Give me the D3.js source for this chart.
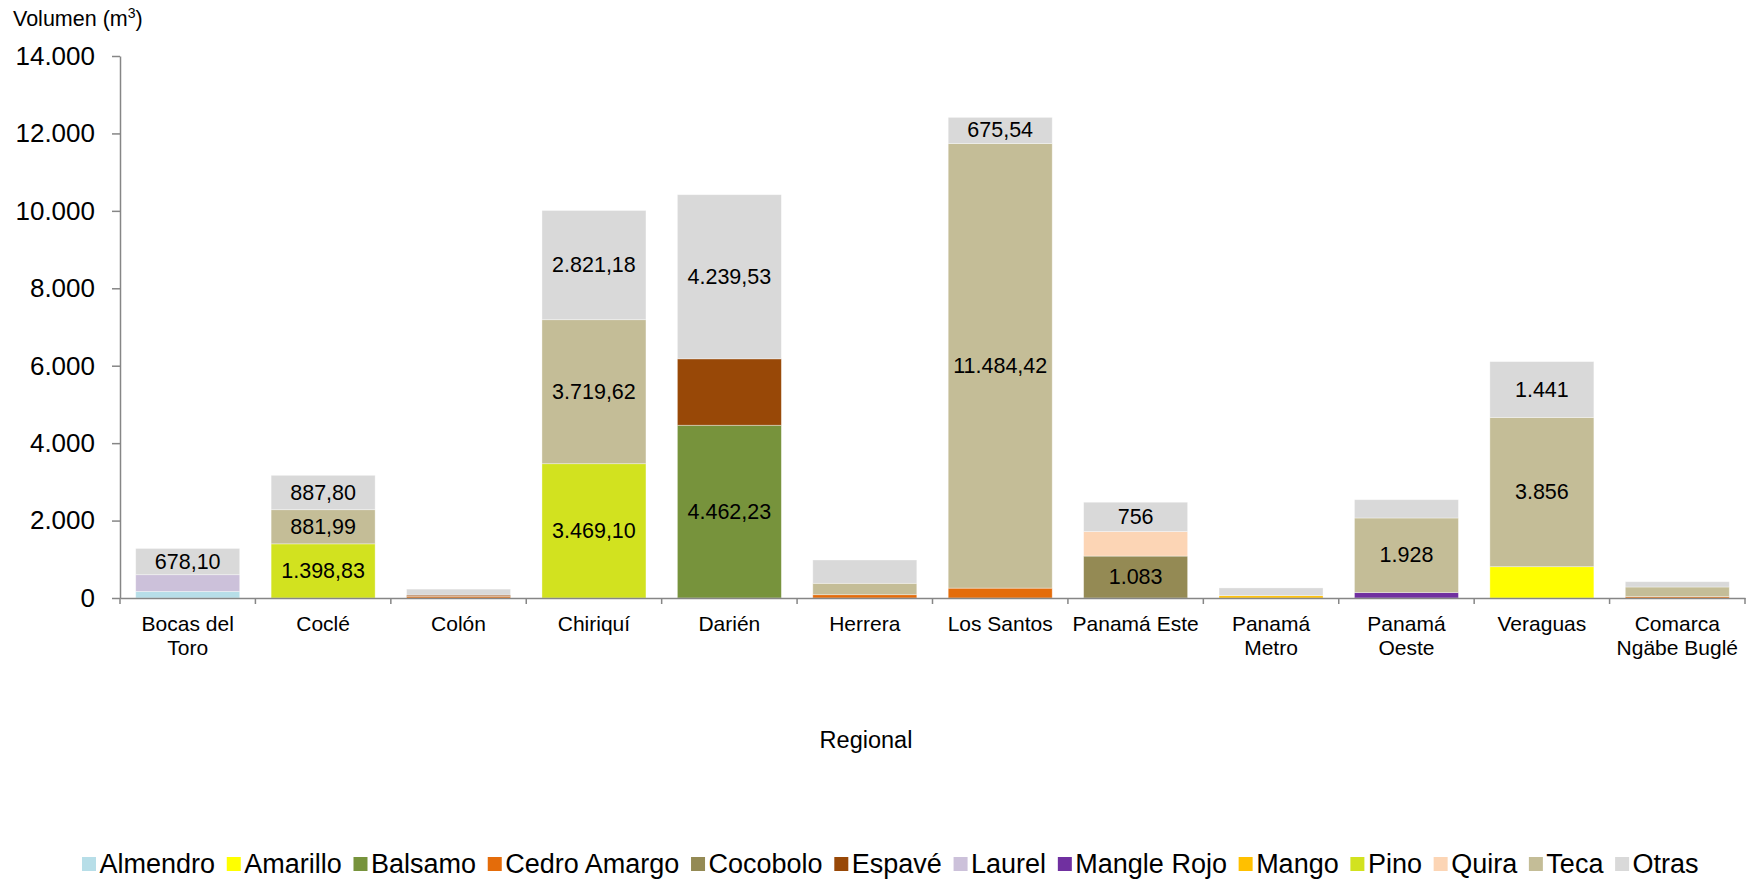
<!DOCTYPE html>
<html>
<head>
<meta charset="utf-8">
<script src="https://cdn.jsdelivr.net/npm/d3@7"></script>
<style>
    body { margin: 0; background: #fff; }
    svg { display: block; font-family: "Liberation Sans", Arial, sans-serif; }
</style>
</head>
<body>
<div id="chart"></div>
<script>
const regions = ["Bocas del Toro", "Coclé", "Colón", "Chiriquí", "Darién", "Herrera", "Los Santos",
    "Panamá Este", "Panamá Metro", "Panamá Oeste", "Veraguas", "Comarca Ngäbe Buglé"];

const regionLines = [["Bocas del", "Toro"], ["Coclé"], ["Colón"], ["Chiriquí"], ["Darién"], ["Herrera"],
    ["Los Santos"], ["Panamá Este"], ["Panamá", "Metro"], ["Panamá", "Oeste"], ["Veraguas"], ["Comarca", "Ngäbe Buglé"]];

const species = ["Almendro", "Amarillo", "Balsamo", "Cedro Amargo", "Cocobolo", "Espavé", "Laurel",
    "Mangle Rojo", "Mango", "Pino", "Quira", "Teca", "Otras"];

const speciesColors = ["#b7dee8", "#ffff00", "#77933c", "#e46c0a", "#948a54", "#984807", "#ccc1da",
    "#7030a0", "#ffc000", "#d2e21f", "#fcd5b5", "#c4bd97", "#d9d9d9"];

// volumes per species, one value per region (m3)
const almendro    = [170, 0, 0, 0, 0, 0, 0, 0, 0, 0, 0, 0];
const amarillo    = [0, 0, 0, 0, 0, 0, 0, 0, 0, 0, 809, 0];
const balsamo     = [0, 0, 0, 0, 4462.23, 0, 0, 0, 0, 0, 0, 0];
const cedroAmargo = [0, 0, 40, 0, 0, 85, 255, 0, 0, 0, 0, 35];
const cocobolo    = [0, 0, 0, 0, 0, 0, 0, 1083, 0, 0, 0, 0];
const espave      = [0, 0, 35, 0, 1716, 0, 0, 0, 0, 0, 0, 0];
const laurel      = [432, 0, 0, 0, 0, 0, 0, 0, 0, 0, 0, 0];
const mangleRojo  = [0, 0, 0, 0, 0, 0, 0, 0, 0, 139, 0, 0];
const mango       = [0, 0, 0, 0, 0, 0, 0, 0, 60, 0, 0, 0];
const pino        = [0, 1398.83, 0, 3469.10, 0, 0, 0, 0, 0, 0, 0, 0];
const quira       = [0, 0, 0, 0, 0, 0, 0, 635, 0, 0, 0, 0];
const teca        = [0, 881.99, 0, 3719.62, 0, 295, 11484.42, 0, 0, 1928, 3856, 249];
const otras       = [678.10, 887.80, 155, 2821.18, 4239.53, 602, 675.54, 756, 200, 472, 1441, 137];

const seriesValues = [almendro, amarillo, balsamo, cedroAmargo, cocobolo, espave, laurel,
    mangleRojo, mango, pino, quira, teca, otras];

const yTicks = [0, 2000, 4000, 6000, 8000, 10000, 12000, 14000];

// data labels shown inside segments
const segmentLabels = [
    ["Bocas del Toro", "Otras", "678,10"],
    ["Coclé", "Pino", "1.398,83"],
    ["Coclé", "Teca", "881,99"],
    ["Coclé", "Otras", "887,80"],
    ["Chiriquí", "Pino", "3.469,10"],
    ["Chiriquí", "Teca", "3.719,62"],
    ["Chiriquí", "Otras", "2.821,18"],
    ["Darién", "Balsamo", "4.462,23"],
    ["Darién", "Otras", "4.239,53"],
    ["Los Santos", "Teca", "11.484,42"],
    ["Los Santos", "Otras", "675,54"],
    ["Panamá Este", "Cocobolo", "1.083"],
    ["Panamá Este", "Otras", "756"],
    ["Panamá Oeste", "Teca", "1.928"],
    ["Veraguas", "Teca", "3.856"],
    ["Veraguas", "Otras", "1.441"]
];

function buildChart() {
    const width = 1754;
    const height = 883;

    const svg = d3.select("#chart")
        .append("svg")
        .attr("width", width)
        .attr("height", height);

    const rows = regions.map((r, i) => {
        const row = { region: r };
        species.forEach((s, j) => { row[s] = seriesValues[j][i]; });
        return row;
    });

    const stacked = d3.stack().keys(species)(rows);

    const x = d3.scaleBand()
        .domain(regions)
        .range([120, 1745])
        .paddingInner(0.232)
        .paddingOuter(0.116);

    const y = d3.scaleLinear()
        .domain([0, 14000])
        .range([598, 56]);

    const color = d3.scaleOrdinal().domain(species).range(speciesColors);

    const locale = d3.formatLocale({ decimal: ",", thousands: ".", grouping: [3], currency: ["", ""] });
    const fmt = locale.format(",");

    // bars
    svg.append("g")
        .selectAll("g")
        .data(stacked)
        .join("g")
        .attr("fill", d => color(d.key))
        .selectAll("rect")
        .data(d => d.filter(p => p[1] - p[0] > 0))
        .join("rect")
        .attr("x", d => x(d.data.region))
        .attr("y", d => y(d[1]))
        .attr("width", x.bandwidth())
        .attr("height", d => y(d[0]) - y(d[1]))
        .attr("stroke", "#ffffff")
        .attr("stroke-opacity", 0.45)
        .attr("stroke-width", 0.8);

    // segment labels
    svg.append("g")
        .selectAll("text")
        .data(segmentLabels)
        .join("text")
        .attr("x", d => x(d[0]) + x.bandwidth() / 2)
        .attr("y", d => {
            const layer = stacked[species.indexOf(d[1])];
            const p = layer[regions.indexOf(d[0])];
            return (y(p[0]) + y(p[1])) / 2;
        })
        .attr("text-anchor", "middle")
        .attr("dominant-baseline", "central")
        .style("font-size", "21.5px")
        .style("fill", "#000")
        .text(d => d[2]);

    // y axis
    const gy = svg.append("g")
        .attr("transform", "translate(120,0)")
        .call(d3.axisLeft(y)
            .tickValues(yTicks)
            .tickFormat(d => fmt(d))
            .tickSize(8)
            .tickSizeOuter(0)
            .tickPadding(17));

    gy.selectAll("path, line")
        .attr("stroke", "#868686")
        .attr("stroke-width", 1.5);

    gy.selectAll("text")
        .style("font-size", "26px")
        .style("font-family", "'Liberation Sans', Arial, sans-serif")
        .attr("fill", "#000");

    // x axis
    const gx = svg.append("g")
        .attr("transform", "translate(0,598)")
        .call(d3.axisBottom(x).tickSize(0).tickSizeOuter(0).tickFormat(""));

    gx.select(".domain")
        .attr("stroke", "#868686")
        .attr("stroke-width", 1.5);

    gx.selectAll(".tick").remove();

    gx.selectAll(".sep")
        .data(d3.range(regions.length + 1))
        .join("line")
        .attr("class", "sep")
        .attr("x1", i => x.range()[0] + i * x.step())
        .attr("x2", i => x.range()[0] + i * x.step())
        .attr("y1", 0)
        .attr("y2", 6)
        .attr("stroke", "#868686")
        .attr("stroke-width", 1.5);

    const catLabels = svg.append("g")
        .selectAll("text")
        .data(regions)
        .join("text")
        .attr("x", d => x(d) + x.bandwidth() / 2)
        .attr("y", 631)
        .attr("text-anchor", "middle")
        .style("font-size", "21px")
        .style("fill", "#000");

    catLabels.selectAll("tspan")
        .data((d, i) => regionLines[i])
        .join("tspan")
        .attr("x", function() { return d3.select(this.parentNode).attr("x"); })
        .attr("dy", (d, i) => i === 0 ? 0 : 23.5)
        .text(d => d);

    // axis titles
    const title = svg.append("text")
        .attr("x", 13)
        .attr("y", 26)
        .style("font-size", "21.5px")
        .style("fill", "#000");
    title.append("tspan").text("Volumen (m");
    title.append("tspan")
        .attr("baseline-shift", "super")
        .style("font-size", "14px")
        .text("3");
    title.append("tspan").text(")");

    svg.append("text")
        .attr("x", 866)
        .attr("y", 748)
        .attr("text-anchor", "middle")
        .style("font-size", "23.5px")
        .style("fill", "#000")
        .text("Regional");

    // legend
    const legend = svg.append("g");
    let lx = 82;
    species.forEach((s, i) => {
        legend.append("rect")
            .attr("x", lx)
            .attr("y", 857)
            .attr("width", 14)
            .attr("height", 14)
            .attr("fill", color(s));
        const t = legend.append("text")
            .attr("x", lx + 17.5)
            .attr("y", 864)
            .attr("dominant-baseline", "central")
            .style("font-size", "27px")
            .style("fill", "#000")
            .text(s);
        lx += 17.5 + t.node().getComputedTextLength() + 11.7;
    });
}

buildChart();
</script>
</body>
</html>
